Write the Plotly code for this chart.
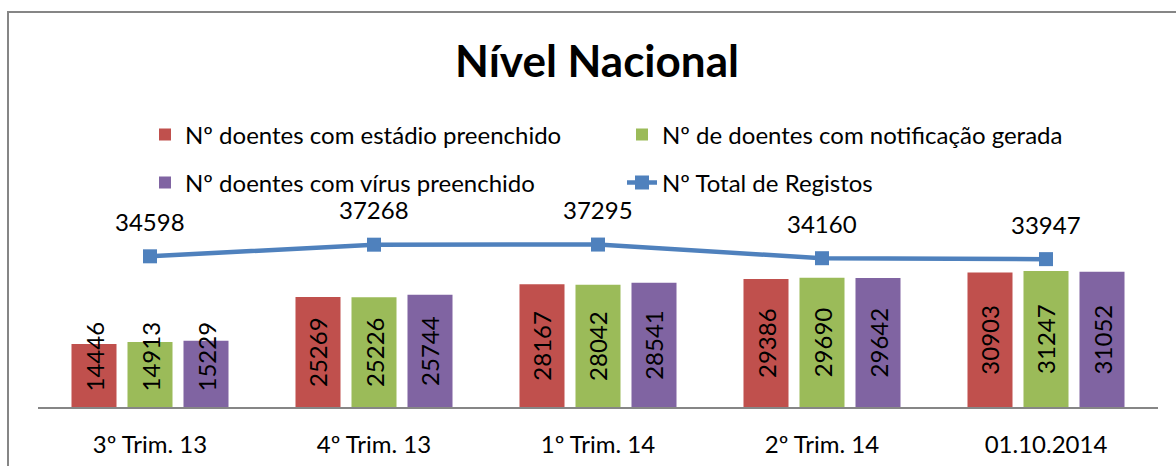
import plotly.graph_objects as go

# ---- data ----
categories = ["3º Trim. 13", "4º Trim. 13", "1º Trim. 14", "2º Trim. 14", "01.10.2014"]
estadio = [14446, 25269, 28167, 29386, 30903]
notificacao = [14913, 25226, 28042, 29690, 31247]
virus = [15229, 25744, 28541, 29642, 31052]
total = [34598, 37268, 37295, 34160, 33947]

series_names = [
    "Nº doentes com estádio preenchido",
    "Nº de doentes com notificação gerada",
    "Nº doentes com vírus preenchido",
    "Nº Total de Registos",
]

# ---- styles ----
FONT = "Lato"
FS = 24
RED, GREEN, PURPLE, BLUE = "#C0504D", "#9BBB59", "#8064A2", "#4F81BD"
W, H = 1176, 466
Y_MAX = 45000
LABEL_MIN_CENTER = 11600  # keep rotated labels clear of the axis

fig = go.Figure()
bar_series = [(estadio, RED, series_names[0], "legend"),
              (notificacao, GREEN, series_names[1], "legend"),
              (virus, PURPLE, series_names[2], "legend2")]
for vals, col, name, lg in bar_series:
    fig.add_trace(go.Bar(x=categories, y=vals, name=name, marker_color=col,
                         marker_line_width=0, legend=lg))

fig.add_trace(go.Scatter(x=categories, y=total, name=series_names[3], mode="lines+markers",
                         line=dict(color=BLUE, width=4.5),
                         marker=dict(symbol="square", size=14, color=BLUE),
                         legend="legend2"))

annotations = []
offsets = [-56, 0, 56]
for (vals, _, _, _), dx in zip(bar_series, offsets):
    for c, v in zip(categories, vals):
        annotations.append(dict(x=c, y=max(v / 2, LABEL_MIN_CENTER), xref="x", yref="y",
                                text=str(v), textangle=-90, showarrow=False, xshift=dx,
                                font=dict(family=FONT, size=FS, color="black")))
for c, v in zip(categories, total):
    annotations.append(dict(x=c, y=v, xref="x", yref="y", text=str(v), showarrow=False,
                            yshift=35, font=dict(family=FONT, size=FS, color="black")))

legend_common = dict(orientation="h", xref="container", yref="container",
                     xanchor="left", yanchor="middle",
                     font=dict(family=FONT, size=FS, color="black"),
                     entrywidthmode="pixels", entrywidth=432,
                     bgcolor="rgba(0,0,0,0)", traceorder="normal")

fig.update_layout(
    width=W, height=H,
    margin=dict(l=38, r=18, t=211, b=59, autoexpand=False),
    paper_bgcolor="white", plot_bgcolor="white",
    title=dict(text="<b>Nível Nacional</b>", x=597 / W, xanchor="center",
               y=1 - 62 / H, yanchor="middle", xref="container", yref="container",
               font=dict(family=FONT, size=44, color="black")),
    barmode="group", bargap=0.25, bargroupgap=0.196,
    xaxis=dict(showline=True, linecolor="#868686", linewidth=2, ticks="",
               showgrid=False, zeroline=False, ticklabelstandoff=15,
               tickfont=dict(family=FONT, size=FS, color="black")),
    yaxis=dict(visible=False, range=[0, Y_MAX], showgrid=False, zeroline=False),
    legend=dict(x=145 / W, y=1 - 135 / H, **legend_common),
    legend2=dict(x=145 / W, y=1 - 183 / H, **legend_common),
    annotations=annotations,
    shapes=[dict(type="rect", xref="paper", yref="paper",
                 x0=(8 - 38) / 1120, x1=1.2, y0=-1, y1=(407 - 12) / 196,
                 line=dict(color="#868686", width=2), fillcolor="rgba(0,0,0,0)", layer="below")],
    showlegend=True,
)

fig.write_html("out.html", config={"displayModeBar": False},
               post_script="document.body.style.margin='0';document.body.style.overflow='hidden';")
